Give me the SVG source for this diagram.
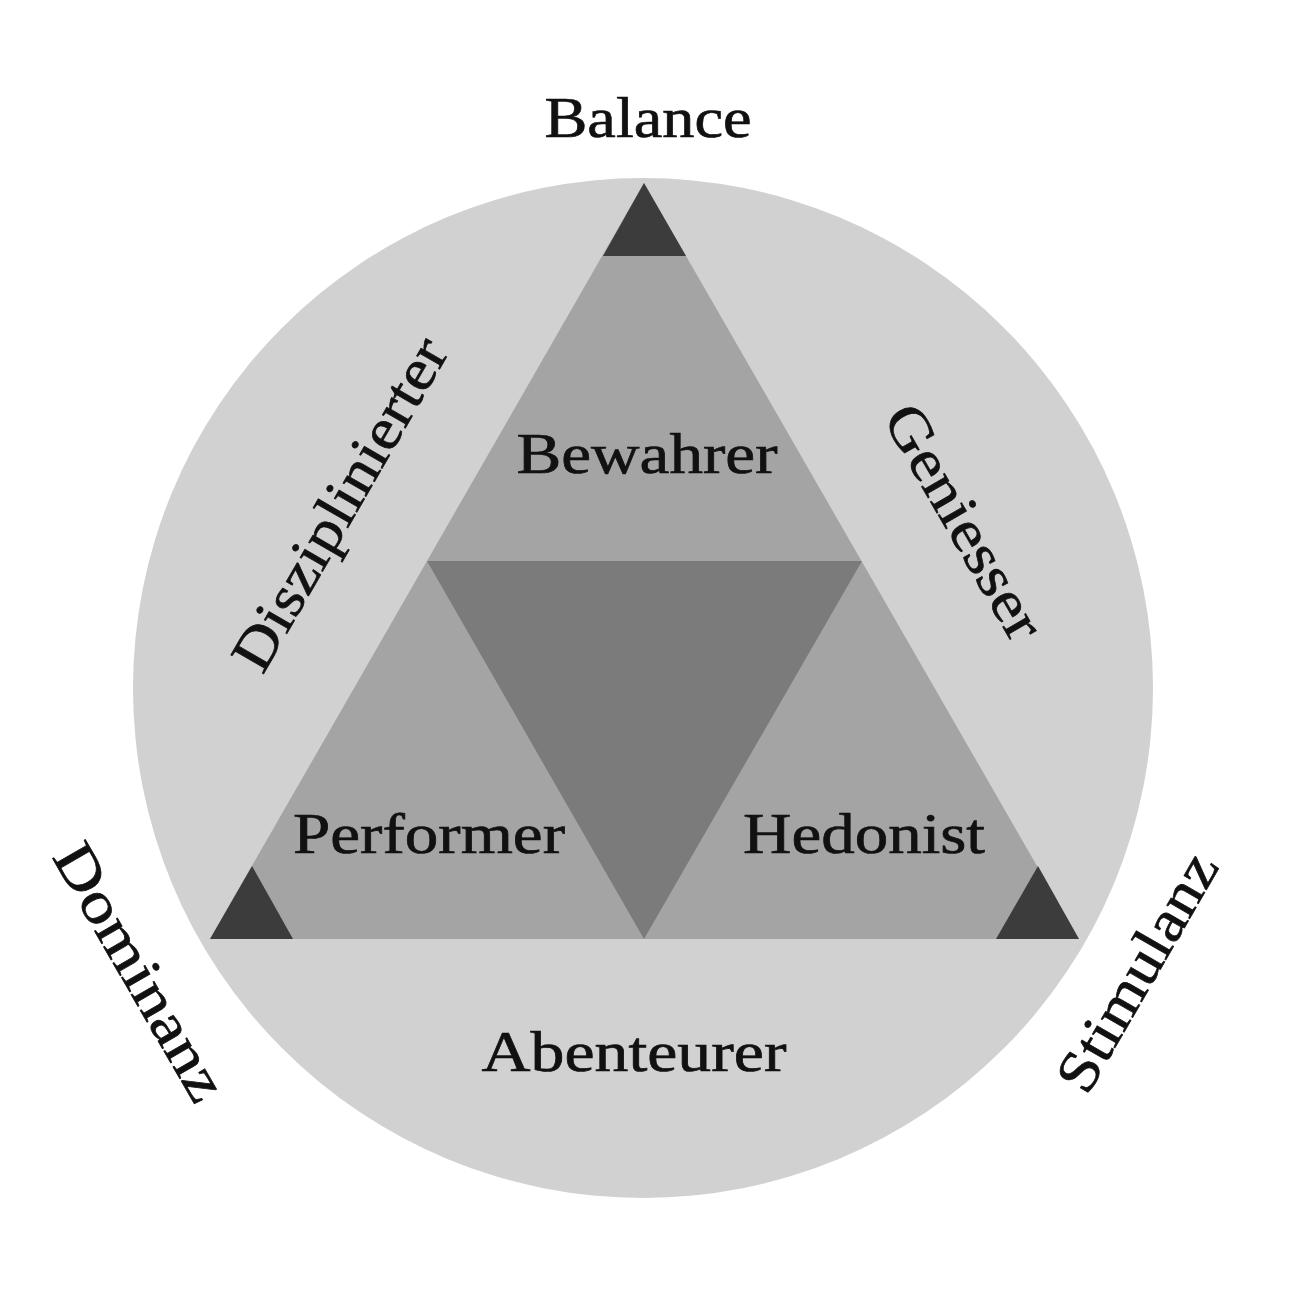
<svg xmlns="http://www.w3.org/2000/svg" width="1295" height="1294" viewBox="0 0 1295 1294">
  <style>
    .lbl { font-family: "Liberation Serif", "DejaVu Serif", serif; font-size: 58px; fill: #111; stroke: #111; stroke-width: 0.7px; text-anchor: middle; }
    .ring { fill: #d1d1d1; }
    .tri { fill: #a4a4a4; }
    .core { fill: #7b7b7b; }
    .tip { fill: #3c3c3c; }
  </style>
  <rect width="1295" height="1294" fill="#ffffff"/>
  <g id="circle">
    <circle class="ring" cx="643" cy="688" r="510"/>
  </g>
  <g id="triangle">
    <polygon class="tri" points="644,183 1079,939 210,939"/>
    <polygon class="core" points="427,561 862,561 644,939"/>
  </g>
  <g id="corner-top"><polygon class="tip" points="644,183 686,256 603,256"/></g>
  <g id="corner-left"><polygon class="tip" points="252,866 293,939 210,939"/></g>
  <g id="corner-right"><polygon class="tip" points="1038,866 1079,939 996,939"/></g>

  <g id="balance"><text class="lbl" x="648" y="137" textLength="207" lengthAdjust="spacingAndGlyphs">Balance</text></g>
  <g id="bewahrer"><text class="lbl" x="647" y="473" textLength="261" lengthAdjust="spacingAndGlyphs">Bewahrer</text></g>
  <g id="performer"><text class="lbl" x="429" y="853" textLength="272" lengthAdjust="spacingAndGlyphs">Performer</text></g>
  <g id="hedonist"><text class="lbl" x="864" y="853" textLength="242" lengthAdjust="spacingAndGlyphs">Hedonist</text></g>
  <g id="abenteurer"><text class="lbl" x="634" y="1071" textLength="305" lengthAdjust="spacingAndGlyphs">Abenteurer</text></g>

  <g id="disziplinierter" transform="translate(345,507) rotate(-60)">
    <text class="lbl" x="0" y="13" textLength="374" lengthAdjust="spacingAndGlyphs">Disziplinierter</text>
  </g>
  <g id="geniesser" transform="translate(964,522) rotate(60)">
    <text class="lbl" x="0" y="19" textLength="262" lengthAdjust="spacingAndGlyphs">Geniesser</text>
  </g>
  <g id="dominanz" transform="translate(140,972) rotate(60)">
    <text class="lbl" x="0" y="19" textLength="288" lengthAdjust="spacingAndGlyphs">Dominanz</text>
  </g>
  <g id="stimulanz" transform="translate(1137,972) rotate(-60)">
    <text class="lbl" x="0" y="19" textLength="266" lengthAdjust="spacingAndGlyphs">Stimulanz</text>
  </g>
</svg>
